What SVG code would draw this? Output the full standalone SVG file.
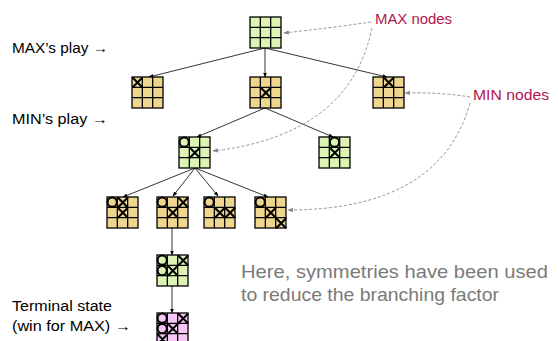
<svg xmlns="http://www.w3.org/2000/svg" xmlns:xlink="http://www.w3.org/1999/xlink" width="558" height="341" viewBox="0 0 558 341">
  <style>
    .lbl { font-family: "Liberation Sans", Arial, sans-serif; font-size: 14px; fill: #000; }
    .tag { font-family: "Liberation Sans", Arial, sans-serif; font-size: 14px; fill: #b3154f; }
    .note { font-family: "Liberation Sans", Arial, sans-serif; font-size: 19px; fill: #7a7a7a; }
    .grid { fill: none; stroke: #000; stroke-width: 1.3; }
    .green { fill: #dcf3b4; }
    .tan { fill: #eed68e; }
    .pink { fill: #f7c6f5; }
    .mark { fill: none; stroke: #000; stroke-width: 2; stroke-linecap: round; }
    .edge { fill: none; stroke: #000; stroke-width: 0.8; }
    .ptr { fill: none; stroke: #888; stroke-width: 0.9; stroke-dasharray: 3 2; }
  </style>
  <defs>
    <marker id="ah" viewBox="0 0 10 10" refX="9" refY="5" markerWidth="6" markerHeight="6" orient="auto">
      <path d="M0,1 L10,5 L0,9 z" fill="#000"/>
    </marker>
    <marker id="ahg" viewBox="0 0 10 10" refX="9" refY="5" markerWidth="6" markerHeight="6" orient="auto">
      <path d="M0,1 L10,5 L0,9 z" fill="#888"/>
    </marker>
    <!-- 3x3 board grid, 31px square -->
    <g id="grid">
      <rect class="grid" x="0" y="0" width="31" height="31"/>
      <path class="grid" d="M10.33,0V31M20.67,0V31M0,10.33H31M0,20.67H31"/>
    </g>
    <path id="x" class="mark" d="M1,1L10,10M10,1L1,10"/>
    <circle id="o" class="mark" cx="5.2" cy="5.2" r="4.6"/>
  </defs>

  <!-- side labels -->
  <text class="lbl" x="12" y="53" textLength="96" lengthAdjust="spacingAndGlyphs">MAX’s play →</text>
  <text class="lbl" x="12" y="124" textLength="96" lengthAdjust="spacingAndGlyphs">MIN’s play →</text>
  <text class="lbl" x="12" y="311" textLength="100" lengthAdjust="spacingAndGlyphs">Terminal state</text>
  <text class="lbl" x="12" y="331" textLength="119" lengthAdjust="spacingAndGlyphs">(win for MAX) →</text>
  <text class="tag" x="375" y="24" textLength="77" lengthAdjust="spacingAndGlyphs">MAX nodes</text>
  <text class="tag" x="473" y="100" textLength="76" lengthAdjust="spacingAndGlyphs">MIN nodes</text>
  <text class="note" x="241" y="278" textLength="307" lengthAdjust="spacingAndGlyphs">Here, symmetries have been used</text>
  <text class="note" x="241" y="301" textLength="258" lengthAdjust="spacingAndGlyphs">to reduce the branching factor</text>

  <!-- connectors -->
  <g id="connectors">
    <path class="edge" marker-end="url(#ah)" d="M265,48 L149,77"/>
    <path class="edge" marker-end="url(#ah)" d="M265,48 L265,77"/>
    <path class="edge" marker-end="url(#ah)" d="M265,48 L387,77"/>
    <path class="edge" marker-end="url(#ah)" d="M265,108 L197,137"/>
    <path class="edge" marker-end="url(#ah)" d="M265,108 L333,137"/>
    <path class="edge" marker-end="url(#ah)" d="M195,168 L123,197"/>
    <path class="edge" marker-end="url(#ah)" d="M195,168 L173,196"/>
    <path class="edge" marker-end="url(#ah)" d="M195,168 L218,196"/>
    <path class="edge" marker-end="url(#ah)" d="M195,168 L268,197"/>
    <path class="edge" marker-end="url(#ah)" d="M172,228 L172,255"/>
    <path class="edge" marker-end="url(#ah)" d="M172,286 L172,313"/>
    <!-- dashed pointers from the captions -->
    <path class="ptr" marker-end="url(#ahg)" d="M371,22 Q330,28 284,33"/>
    <path class="ptr" marker-end="url(#ahg)" d="M372,28 Q350,135 213,151"/>
    <path class="ptr" marker-end="url(#ahg)" d="M470,97 Q440,92 405,93"/>
    <path class="ptr" marker-end="url(#ahg)" d="M470,103 Q440,210 288,210"/>
  </g>

  <!-- boards -->
  <g id="root" transform="translate(250,17)">
    <rect class="green" width="31" height="31"/><use href="#grid"/>
  </g>
  <g id="max-a" transform="translate(132,77)">
    <rect class="tan" width="31" height="31"/><use href="#grid"/>
    <use href="#x"/>
  </g>
  <g id="max-b" transform="translate(250,77)">
    <rect class="tan" width="31" height="31"/><use href="#grid"/>
    <use href="#x" x="10.33" y="10.33"/>
  </g>
  <g id="max-c" transform="translate(373,77)">
    <rect class="tan" width="31" height="31"/><use href="#grid"/>
    <use href="#x" x="10.33"/>
  </g>
  <g id="min-a" transform="translate(179,137)">
    <rect class="green" width="31" height="31"/><use href="#grid"/>
    <use href="#o"/><use href="#x" x="10.33" y="10.33"/>
  </g>
  <g id="min-b" transform="translate(319,137)">
    <rect class="green" width="31" height="31"/><use href="#grid"/>
    <use href="#o" x="10.33"/><use href="#x" x="10.33" y="10.33"/>
  </g>
  <g id="max-d" transform="translate(107,197)">
    <rect class="tan" width="31" height="31"/><use href="#grid"/>
    <use href="#o"/><use href="#x" x="10.33"/><use href="#x" x="10.33" y="10.33"/>
  </g>
  <g id="max-e" transform="translate(157,197)">
    <rect class="tan" width="31" height="31"/><use href="#grid"/>
    <use href="#o"/><use href="#x" x="20.67"/><use href="#x" x="10.33" y="10.33"/>
  </g>
  <g id="max-f" transform="translate(204,197)">
    <rect class="tan" width="31" height="31"/><use href="#grid"/>
    <use href="#o"/><use href="#x" x="10.33" y="10.33"/><use href="#x" x="20.67" y="10.33"/>
  </g>
  <g id="max-g" transform="translate(255,197)">
    <rect class="tan" width="31" height="31"/><use href="#grid"/>
    <use href="#o"/><use href="#x" x="10.33" y="10.33"/><use href="#x" x="20.67" y="20.67"/>
  </g>
  <g id="min-c" transform="translate(157,255)">
    <rect class="green" width="31" height="31"/><use href="#grid"/>
    <use href="#o"/><use href="#x" x="20.67"/><use href="#o" y="10.33"/><use href="#x" x="10.33" y="10.33"/>
  </g>
  <g id="terminal" transform="translate(157,313)">
    <rect class="pink" width="31" height="31"/><use href="#grid"/>
    <use href="#o"/><use href="#x" x="20.67"/><use href="#o" y="10.33"/><use href="#x" x="10.33" y="10.33"/><use href="#x" y="20.67"/>
  </g>
</svg>
